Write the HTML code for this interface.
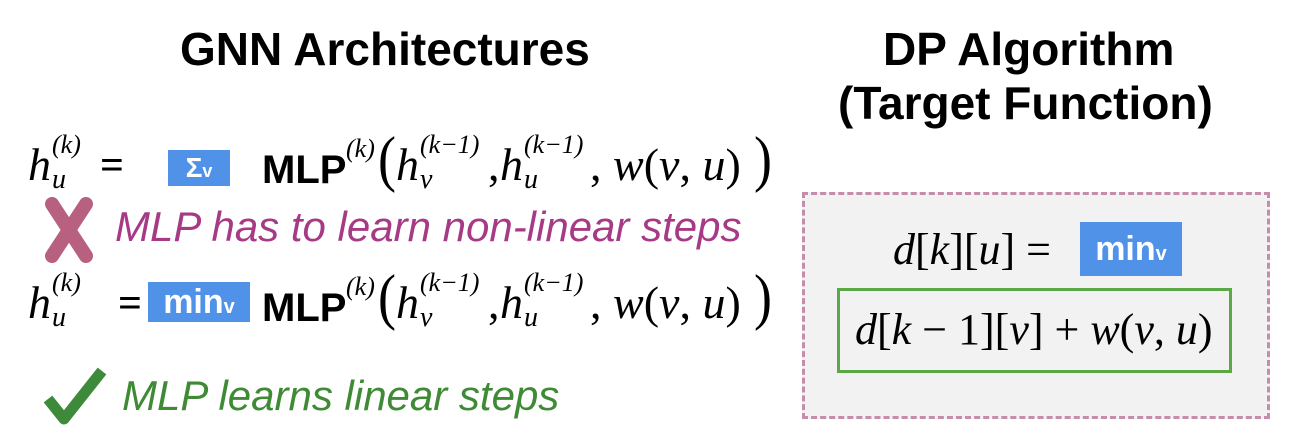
<!DOCTYPE html>
<html><head><meta charset="utf-8"><style>
body{margin:0;width:1302px;height:440px;background:#fff;position:relative;overflow:hidden;font-family:"Liberation Sans",sans-serif}
.a{position:absolute;white-space:nowrap}
.t{font-weight:bold;font-size:46px;color:#000;letter-spacing:0px}
.m{font-family:"Liberation Serif",serif;font-size:46px;color:#000}
.i{font-style:italic}
.mlp{font-family:"Liberation Sans",sans-serif;font-weight:bold;font-size:40px}
.box{position:absolute;background:#4f92e8;color:#fff;font-weight:bold;font-family:"Liberation Sans",sans-serif;text-align:center}
</style></head><body>
<div class="a t" style="left:180px;top:22px">GNN Architectures</div>
<div class="a t" style="left:883px;top:22px">DP Algorithm</div>
<div class="a t" style="left:838px;top:76px">(Target Function)</div>

<!-- line 1 -->
<div class="a m i" style="left:28px;top:138px">h</div>
<div class="a m i" style="left:52px;top:130px;font-size:26px">(k)</div>
<div class="a m i" style="left:52px;top:164px;font-size:28px">u</div>
<div class="a m" style="left:100px;top:142px;font-weight:bold;font-size:42px">=</div>
<div class="box" style="left:168px;top:150px;width:62px;height:36px;font-size:28px;line-height:36px">Σ<span style="font-size:18px">v</span></div>
<div class="a mlp" style="left:262px;top:148px">MLP</div>
<div class="a m i" style="left:346px;top:134px;font-size:26px">(k)</div>
<div class="a m" style="left:378px;top:128px;font-size:54px;transform:scaleY(1.15)">(</div>
<div class="a m i" style="left:396px;top:138px">h</div>
<div class="a m i" style="left:420px;top:130px;font-size:26px">(k−1)</div>
<div class="a m i" style="left:420px;top:164px;font-size:28px">v</div>
<div class="a m" style="left:488px;top:138px">,</div>
<div class="a m i" style="left:500px;top:138px">h</div>
<div class="a m i" style="left:524px;top:130px;font-size:26px">(k−1)</div>
<div class="a m i" style="left:524px;top:164px;font-size:28px">u</div>
<div class="a m" style="left:590px;top:138px">, <i>w</i>(<i>v</i>, <i>u</i>)</div>
<div class="a m" style="left:754px;top:128px;font-size:54px;transform:scaleY(1.15)">)</div>

<!-- cross -->
<svg class="a" style="left:40px;top:196px" width="58" height="68" viewBox="0 0 58 68">
<path d="M12 8 L46 60 M46 8 L12 60" stroke="#b7607f" stroke-width="14" stroke-linecap="round"/></svg>
<div class="a" style="left:115px;top:203px;font-size:42px;font-style:italic;color:#a63a86">MLP has to learn non-linear steps</div>

<!-- line 2 -->
<div class="a m i" style="left:28px;top:276px">h</div>
<div class="a m i" style="left:52px;top:268px;font-size:26px">(k)</div>
<div class="a m i" style="left:52px;top:302px;font-size:28px">u</div>
<div class="a m" style="left:118px;top:280px;font-weight:bold;font-size:42px">=</div>
<div class="box" style="left:148px;top:282px;width:102px;height:40px;font-size:34px;line-height:40px">min<span style="font-size:20px">v</span></div>
<div class="a mlp" style="left:262px;top:286px">MLP</div>
<div class="a m i" style="left:346px;top:272px;font-size:26px">(k)</div>
<div class="a m" style="left:378px;top:266px;font-size:54px;transform:scaleY(1.15)">(</div>
<div class="a m i" style="left:396px;top:276px">h</div>
<div class="a m i" style="left:420px;top:268px;font-size:26px">(k−1)</div>
<div class="a m i" style="left:420px;top:302px;font-size:28px">v</div>
<div class="a m" style="left:488px;top:276px">,</div>
<div class="a m i" style="left:500px;top:276px">h</div>
<div class="a m i" style="left:524px;top:268px;font-size:26px">(k−1)</div>
<div class="a m i" style="left:524px;top:302px;font-size:28px">u</div>
<div class="a m" style="left:590px;top:276px">, <i>w</i>(<i>v</i>, <i>u</i>)</div>
<div class="a m" style="left:754px;top:266px;font-size:54px;transform:scaleY(1.15)">)</div>

<!-- check -->
<svg class="a" style="left:42px;top:365px" width="66" height="62" viewBox="0 0 66 62">
<path d="M6 34 L22 54 L60 6" fill="none" stroke="#3d8a3a" stroke-width="11" stroke-linejoin="round"/></svg>
<div class="a" style="left:122px;top:372px;font-size:42px;font-style:italic;color:#3f8a35">MLP learns linear steps</div>

<!-- right box -->
<div class="a" style="left:802px;top:192px;width:462px;height:221px;background:#f2f2f2;border:3px dashed #c58cac"></div>
<div class="a m i" style="left:893px;top:224px;font-size:44px">d<span style="font-style:normal">[</span>k<span style="font-style:normal">][</span>u<span style="font-style:normal">] =</span></div>
<div class="box" style="left:1080px;top:222px;width:102px;height:54px;font-size:34px;line-height:54px">min<span style="font-size:20px">v</span></div>
<div class="a" style="left:837px;top:288px;width:389px;height:79px;border:3px solid #5aa846"></div>
<div class="a m i" style="left:855px;top:304px;font-size:44px">d<span style="font-style:normal">[</span>k <span style="font-style:normal">− 1][</span>v<span style="font-style:normal">] + </span>w<span style="font-style:normal">(</span>v<span style="font-style:normal">, </span>u<span style="font-style:normal">)</span></div>
</body></html>
